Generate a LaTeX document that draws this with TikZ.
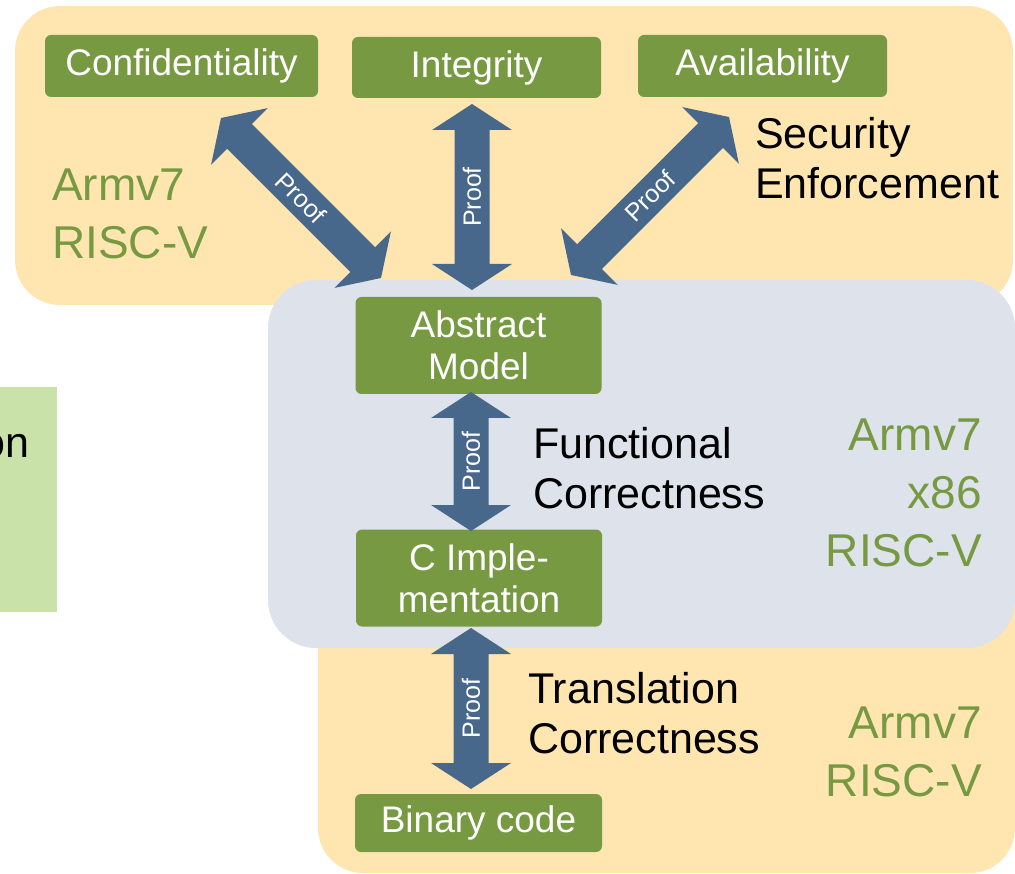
\documentclass[tikz,border=0pt]{standalone}
\usepackage{fontspec}
\setmainfont{Liberation Sans}
\usetikzlibrary{calc}
\definecolor{yellowbg}{RGB}{255,230,177}
\definecolor{graybg}{RGB}{222,227,235}
\definecolor{nodegreen}{RGB}{118,153,66}
\definecolor{archgreen}{RGB}{118,153,66}
\definecolor{arrowblue}{RGB}{71,104,138}
\definecolor{lightgreen}{RGB}{201,226,170}
\tikzset{
  box/.style={fill=nodegreen, rounded corners=6pt, text=white, font=\fontsize{37}{42}\selectfont, align=center, inner sep=0pt},
  lbl/.style={inner sep=0pt, text=black, font=\fontsize{43}{50}\selectfont, align=left},
  archl/.style={inner sep=0pt, text=archgreen, font=\fontsize{46}{58}\selectfont, align=left},
  archr/.style={inner sep=0pt, text=archgreen, font=\fontsize{46}{58}\selectfont, align=right},
  prooflbl/.style={text=white, font=\fontsize{25}{25}\selectfont, inner sep=0pt},
}
\newcommand\blockarrow[2]{%
  \fill[arrowblue] let \p1=($(#2)-(#1)$), \n1={atan2(\y1,\x1)}, \n2={veclen(\x1,\y1)} in
    [shift={(#1)}, rotate=\n1]
    (0,0) -- (26,40) -- (26,17.5) -- (\n2-26,17.5) -- (\n2-26,40) -- (\n2,0)
    -- (\n2-26,-40) -- (\n2-26,-17.5) -- (26,-17.5) -- (26,-40) -- cycle;}
\begin{document}
\begin{tikzpicture}[x=1pt,y=-1pt]
\useasboundingbox (0,0) rectangle (1015,874);
% backgrounds
\fill[yellowbg, rounded corners=45pt] (15,6) rectangle (1013,305);
\fill[yellowbg, rounded corners=45pt] (318,560) rectangle (1015,873);
\fill[graybg, rounded corners=48pt] (268,280) rectangle (1015,648);
\fill[lightgreen] (0,387) rectangle (57,612);
\node[lbl, anchor=base east] (on) at (30,457) {on};
% nodes
\node[box, minimum width=273pt, minimum height=62pt] (conf) at (181.5,66) {Confidentiality};
\node[box, minimum width=249pt, minimum height=61pt] (integ) at (476.5,67.5) {Integrity};
\node[box, minimum width=249pt, minimum height=62pt] (avail) at (762.5,66) {Availability};
\node[box, minimum width=246pt, minimum height=97pt] (abs) at (478.5,345.5) {Abstract\\Model};
\node[box, minimum width=246pt, minimum height=97pt] (cimpl) at (479,578) {C Imple-\\mentation};
\node[box, minimum width=247pt, minimum height=58pt] (bin) at (478.5,823) {Binary code};
% arrow end points
\coordinate (confT) at (221,118);
\coordinate (confB) at (381,278);
\coordinate (integT) at (472,104);
\coordinate (integB) at (472,290);
\coordinate (availB) at (571,275);
\coordinate (availT) at (729,117);
\coordinate (funcT) at (471,392);
\coordinate (funcB) at (471,531);
\coordinate (transT) at (471,628);
\coordinate (transB) at (471,789);
\blockarrow{confT}{confB}
\blockarrow{integT}{integB}
\blockarrow{availB}{availT}
\blockarrow{funcT}{funcB}
\blockarrow{transT}{transB}
\node[prooflbl, rotate=-45] (p1) at ($(confT)!0.5!(confB)$) {Proof};
\node[prooflbl, rotate=90] (p2) at ($(integT)!0.5!(integB)$) {Proof};
\node[prooflbl, rotate=45] (p3) at ($(availB)!0.5!(availT)$) {Proof};
\node[prooflbl, rotate=90] (p4) at ($(funcT)!0.5!(funcB)$) {Proof};
\node[prooflbl, rotate=90] (p5) at ($(transT)!0.5!(transB)$) {Proof};
% labels
\node[archl, anchor=north west] (archA) at (52,168.5) {Armv7\\RISC-V};
\node[lbl, anchor=north west] (sec) at (755,117) {Security\\Enforcement};
\node[lbl, anchor=north west] (func) at (533,427) {Functional\\Correctness};
\node[archr, anchor=north east] (archB) at (982,418.5) {Armv7\\x86\\RISC-V};
\node[lbl, anchor=north west] (trans) at (528,672) {Translation\\Correctness};
\node[archr, anchor=north east] (archC) at (982,706.5) {Armv7\\RISC-V};
\end{tikzpicture}
\end{document}
